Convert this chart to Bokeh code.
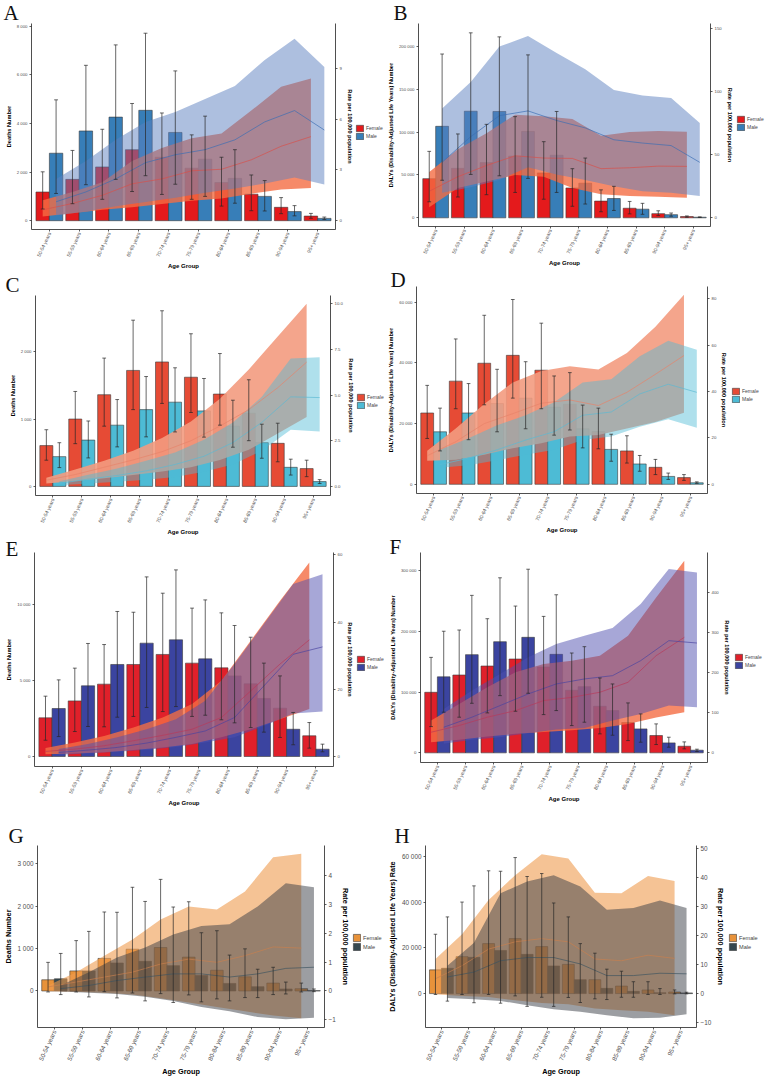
import math
from bokeh.plotting import figure
from bokeh.models import Range1d, LinearAxis, FixedTicker, Legend, LegendItem
from bokeh.layouts import column, row
from bokeh.embed import file_html
from bokeh.resources import INLINE

AGE_GROUPS = ["50-54 years", "55-59 years", "60-64 years", "65-69 years", "70-74 years",
              "75-79 years", "80-84 years", "85-89 years", "90-94 years", "95+ years"]
SEX_LABELS = ["Female", "Male"]
RATE_TITLE = "Rate per 100,000 population"

# ---------------- Panel A: deaths ----------------
A_NUM_F = [1180, 1700, 2210, 2920, 2610, 2160, 1570, 1090, 550, 190]
A_NUM_F_LO = [480, 700, 880, 1200, 1080, 880, 600, 410, 290, 100]
A_NUM_F_HI = [2010, 2890, 3760, 4820, 4430, 3530, 2610, 1880, 950, 300]
A_NUM_M = [2775, 3690, 4260, 4540, 3630, 2530, 1740, 1000, 375, 95]
A_NUM_M_LO = [1120, 1480, 1700, 1850, 1500, 1000, 720, 400, 200, 50]
A_NUM_M_HI = [4970, 6390, 7230, 7710, 6160, 4300, 2920, 1650, 620, 150]
A_RATE_F = [0.64, 1.02, 1.5, 2.18, 2.47, 2.95, 3.04, 3.6, 4.4, 4.97]
A_RATE_F_LO = [0.25, 0.44, 0.64, 0.79, 0.98, 1.18, 1.31, 1.6, 1.85, 1.93]
A_RATE_F_HI = [1.21, 1.7, 2.27, 3.53, 4.3, 4.87, 5.16, 6.51, 7.92, 8.4]
A_RATE_M = [1.12, 1.7, 2.47, 3.43, 3.9, 4.2, 4.78, 5.84, 6.51, 5.36]
A_RATE_M_LO = [0.3, 0.55, 0.85, 1.1, 1.35, 1.65, 1.9, 2.2, 2.55, 2.14]
A_RATE_M_HI = [2.47, 3.53, 4.78, 5.84, 6.42, 7.19, 7.96, 9.5, 10.75, 9.09]

# ---------------- Panel B: DALYs ----------------
B_NUM_F = [45700, 57700, 64400, 71900, 52400, 34800, 19500, 11200, 4900, 1500]
B_NUM_F_LO = [18700, 24300, 27000, 29600, 21700, 13500, 7100, 4600, 2600, 700]
B_NUM_F_HI = [77500, 97800, 109000, 118000, 88800, 57300, 32600, 19100, 8200, 2200]
B_NUM_M = [106700, 124300, 124000, 100700, 73000, 40400, 22500, 10100, 3700, 700]
B_NUM_M_LO = [43800, 50600, 49000, 46000, 29600, 16100, 8600, 4100, 1900, 400]
B_NUM_M_HI = [191000, 215700, 211000, 190000, 124000, 69700, 36700, 16900, 5600, 1100]
B_RATE_F = [21.1, 32.6, 41.5, 49.2, 47.4, 47.1, 39.0, 39.7, 41.0, 40.8]
B_RATE_F_LO = [8.4, 23.7, 28.8, 33.9, 32.6, 23.7, 18.6, 17.3, 16.8, 16.0]
B_RATE_F_HI = [36.4, 54.3, 67.0, 81.8, 80.5, 78.4, 65.0, 68.0, 68.8, 68.3]
B_RATE_M = [44.0, 64.4, 81.0, 84.8, 77.2, 71.3, 61.9, 59.3, 57.3, 44.0]
B_RATE_M_LO = [19.9, 24.2, 30.0, 40.2, 34.4, 30.0, 25.0, 21.1, 19.9, 17.3]
B_RATE_M_HI = [86.6, 107.7, 135.8, 144.2, 130.7, 117.9, 101.4, 97.0, 95.0, 75.1]

# ---------------- Panel C: deaths ----------------
C_NUM_F = [607, 1002, 1364, 1725, 1851, 1624, 1373, 1089, 641, 265]
C_NUM_F_LO = [390, 636, 896, 1142, 1234, 1099, 911, 680, 366, 145]
C_NUM_F_HI = [843, 1412, 1908, 2472, 2612, 2270, 1976, 1586, 940, 390]
C_NUM_M = [443, 689, 911, 1142, 1253, 1123, 896, 651, 284, 72]
C_NUM_M_LO = [280, 424, 588, 737, 810, 733, 583, 419, 169, 43]
C_NUM_M_HI = [650, 973, 1292, 1634, 1764, 1605, 1282, 925, 405, 101]
C_RATE_F = [0.34, 0.65, 1.05, 1.45, 1.9, 2.5, 3.3, 4.2, 5.4, 6.8]
C_RATE_F_LO = [0.16, 0.3, 0.45, 0.62, 0.82, 1.05, 1.45, 2.0, 2.9, 3.8]
C_RATE_F_HI = [0.48, 0.92, 1.4, 1.95, 2.65, 3.55, 4.8, 6.4, 8.2, 10.0]
C_RATE_M = [0.16, 0.4, 0.6, 0.85, 1.2, 1.65, 2.4, 3.5, 4.9, 4.86]
C_RATE_M_LO = [0.07, 0.16, 0.25, 0.36, 0.52, 0.8, 1.2, 1.95, 3.1, 3.0]
C_RATE_M_HI = [0.28, 0.64, 0.98, 1.4, 1.85, 2.55, 3.5, 4.9, 7.0, 7.06]

# ---------------- Panel D: DALYs ----------------
D_NUM_F = [23500, 34000, 39900, 42500, 37600, 26400, 17400, 11000, 5600, 2200]
D_NUM_F_LO = [15100, 24900, 26200, 28400, 24900, 17900, 11700, 7000, 3200, 1300]
D_NUM_F_HI = [32600, 47900, 55700, 60900, 53100, 36800, 25100, 16000, 8200, 3200]
D_NUM_M = [17300, 23500, 26600, 28400, 25400, 18300, 11500, 6700, 2600, 500]
D_NUM_M_LO = [11000, 14700, 17300, 18300, 16200, 12000, 7600, 4300, 1600, 300]
D_NUM_M_HI = [25100, 33200, 37900, 40400, 35700, 26100, 16500, 9500, 3700, 800]
D_RATE_F = [12.3, 18.4, 26.2, 30.5, 35.0, 36.4, 34.0, 39.7, 47.5, 55.6]
D_RATE_F_LO = [10.2, 10.6, 12.8, 15.6, 17.7, 20.6, 21.3, 24.1, 26.9, 30.9]
D_RATE_F_HI = [14.5, 24.1, 34.7, 44.0, 48.9, 51.0, 49.6, 56.7, 68.0, 81.8]
D_RATE_M = [8.5, 11.3, 14.9, 19.1, 22.7, 29.8, 31.2, 39.0, 43.2, 39.7]
D_RATE_M_LO = [7.1, 8.2, 10.4, 12.8, 14.9, 19.1, 20.6, 24.8, 28.1, 24.4]
D_RATE_M_HI = [14.9, 19.9, 25.5, 29.8, 35.4, 44.0, 45.4, 55.3, 62.0, 58.1]

# ---------------- Panel E: deaths ----------------
E_NUM_F = [2540, 3650, 4750, 6040, 6700, 6130, 5820, 4770, 3170, 1360]
E_NUM_F_LO = [1070, 1640, 1950, 2630, 2950, 2630, 2410, 1900, 1250, 550]
E_NUM_F_HI = [3960, 5800, 7350, 9470, 10720, 9740, 9430, 7830, 5290, 2230]
E_NUM_M = [3150, 4640, 6040, 7440, 7660, 6410, 5290, 3810, 1790, 480]
E_NUM_M_LO = [1310, 1970, 2580, 3220, 3280, 2710, 2210, 1600, 770, 310]
E_NUM_M_HI = [5030, 7420, 9520, 11790, 12250, 10280, 8600, 6130, 2890, 810]
E_RATE_F = [1.5, 2.2, 3.2, 4.7, 6.3, 8.1, 11.6, 19.5, 27.5, 34.7]
E_RATE_F_LO = [0.7, 0.9, 1.3, 1.9, 2.7, 3.7, 5.7, 8.1, 11.1, 14.1]
E_RATE_F_HI = [2.5, 4.2, 6.1, 8.6, 11.6, 15.6, 22.5, 34.4, 46.3, 57.7]
E_RATE_M = [1.2, 1.9, 2.7, 4.0, 5.7, 7.6, 11.6, 21.0, 30.4, 32.6]
E_RATE_M_LO = [0.5, 0.9, 1.4, 2.0, 2.8, 4.2, 5.7, 9.1, 12.8, 13.4]
E_RATE_M_HI = [2.2, 3.7, 5.7, 8.1, 11.1, 16.6, 27.5, 39.4, 51.3, 54.2]

# ---------------- Panel F: DALYs ----------------
F_NUM_F = [99600, 128000, 142800, 154300, 141200, 102900, 76600, 49800, 28500, 10900]
F_NUM_F_LO = [43200, 58600, 65700, 68400, 62900, 44900, 31200, 20200, 13700, 6600]
F_NUM_F_HI = [157000, 202000, 220600, 241400, 224400, 164200, 123100, 82100, 47600, 18000]
F_NUM_M = [125000, 161500, 182800, 190000, 162000, 108900, 69500, 39400, 16400, 4400]
F_NUM_M_LO = [66800, 81500, 94100, 98000, 69500, 50400, 29000, 17500, 9300, 2200]
F_NUM_M_HI = [200000, 259000, 287900, 302000, 260000, 174600, 113300, 64000, 25700, 6000]
F_RATE_F = [51.3, 68.0, 88.6, 105.0, 130.0, 138.0, 150.7, 175.5, 241.7, 287.3]
F_RATE_F_LO = [26.5, 32.3, 40.6, 47.2, 52.0, 56.0, 62.0, 72.0, 88.0, 101.0]
F_RATE_F_HI = [80.3, 121.7, 163.0, 200.3, 221.0, 229.3, 241.7, 291.4, 386.6, 477.6]
F_RATE_M = [63.7, 88.6, 117.5, 146.5, 171.4, 183.8, 192.0, 229.3, 279.0, 273.2]
F_RATE_M_LO = [22.4, 32.3, 38.9, 48.8, 57.9, 62.1, 80.3, 96.9, 117.5, 113.4]
F_RATE_M_HI = [109.3, 154.8, 196.2, 237.6, 270.7, 291.4, 310.4, 370.0, 457.0, 448.7]

# ---------------- Panel G: deaths ----------------
G_NUM_F = [264, 473, 767, 984, 1023, 798, 488, 333, 186, 54]
G_NUM_F_LO = [-23, -23, -16, -47, -62, -93, -186, -155, -85, -23]
G_NUM_F_HI = [674, 1186, 1860, 2442, 2628, 2101, 1419, 992, 558, 186]
G_NUM_M = [287, 473, 659, 698, 597, 364, 178, 101, 47, 8]
G_NUM_M_LO = [-85, -140, -163, -233, -271, -256, -233, -155, -70, -16]
G_NUM_M_HI = [884, 1403, 1853, 2109, 1977, 1372, 845, 512, 209, 47]
G_RATE_F = [0.14, 0.31, 0.48, 0.65, 0.93, 1.1, 0.99, 1.22, 1.52, 1.48]
G_RATE_F_LO = [-0.01, -0.03, -0.06, -0.12, -0.25, -0.4, -0.55, -0.7, -0.85, -0.94]
G_RATE_F_HI = [0.19, 0.65, 1.22, 1.78, 2.47, 2.92, 2.81, 3.43, 4.62, 4.74]
G_RATE_M = [0.08, 0.19, 0.36, 0.48, 0.59, 0.59, 0.48, 0.59, 0.78, 0.82]
G_RATE_M_LO = [-0.02, -0.06, -0.1, -0.2, -0.35, -0.55, -0.7, -0.9, -0.98, -0.92]
G_RATE_M_HI = [0.19, 0.65, 1.16, 1.5, 1.95, 2.24, 2.3, 2.92, 3.72, 3.58]

# ---------------- Panel H: DALYs ----------------
H_NUM_F = [10400, 16200, 21900, 24100, 20600, 12800, 6100, 3300, 1600, 700]
H_NUM_F_LO = [-400, -400, -400, -1000, -1600, -1700, -2300, -1600, -400, -100]
H_NUM_F_HI = [26000, 40100, 53800, 59600, 52600, 33600, 17700, 9800, 5200, 1600]
H_NUM_M = [11100, 15900, 18900, 17200, 12100, 6100, 2300, 1000, 400, 300]
H_NUM_M_LO = [-3300, -4000, -4200, -5600, -5600, -3900, -2600, -1600, -400, -100]
H_NUM_M_HI = [33600, 47200, 53600, 51300, 39700, 21900, 10700, 5200, 2200, 600]
H_RATE_F = [5.1, 9.6, 15.3, 17.8, 18.9, 17.8, 11.9, 11.3, 13.2, 12.1]
H_RATE_F_LO = [-0.2, -0.8, -1.2, -2.3, -3.2, -3.7, -5.1, -5.7, -6.2, -7.4]
H_RATE_F_HI = [11.9, 20.4, 32.2, 40.7, 47.9, 46.4, 34.7, 34.5, 40.4, 38.7]
H_RATE_M = [5.7, 7.4, 11.3, 12.4, 12.4, 10.2, 6.2, 6.2, 7.0, 6.8]
H_RATE_M_LO = [-1.5, -1.9, -2.5, -4.0, -5.4, -6.2, -7.4, -8.5, -8.3, -7.1]
H_RATE_M_HI = [9.6, 17.5, 34.5, 38.5, 40.7, 36.8, 28.8, 29.4, 32.0, 29.4]

SANS = "Liberation Sans"
SERIF = "Liberation Serif"
BAR_EDGE = "#3A3A3A"
ERR_COLOR = "#262626"
DODGE = 0.225
BAR_W = 0.45
CAP = 0.065
LETTER_SIZE = 21

PAL_AB = dict(f_bar="#E41A1C", m_bar="#377EB8", f_rib="#F46D43", f_rib_a=0.8,
              m_rib="#5B7FBF", m_rib_a=0.5, f_line="#D8504A", m_line="#3C6EB4")
PAL_CD = dict(f_bar="#E64B35", m_bar="#4DBBD5", f_rib="#F39B7F", f_rib_a=0.9,
              m_rib="#4DBBD5", m_rib_a=0.45, f_line="#E8826A", m_line="#5CBAD2")
PAL_EF = dict(f_bar="#E0202A", m_bar="#3B44A0", f_rib="#F46D43", f_rib_a=0.8,
              m_rib="#4F4FB0", m_rib_a=0.5, f_line="#B83A5A", m_line="#4A44A0")
PAL_GH = dict(f_bar="#E8923A", m_bar="#34474F", f_rib="#EE9B4F", f_rib_a=0.6,
              m_rib="#3A3E46", m_rib_a=0.5, f_line="#C8804E", m_line="#3F5560")

FONT_SMALL = dict(tick="4.3px", xtick="5px", title="5.6px", xtitle="6px", legend="5px", gw=9, gh=8)
FONT_LARGE = dict(tick="6.4px", xtick="6.2px", title="7.3px", xtitle="7.3px", legend="5.6px", gw=9, gh=9)

DEATHS_TITLE = "Deaths Number"
DALYS_TITLE = "DALYs (Disability-Adjusted Life Years) Number"
DALYS_RATE_TITLE = "DALYs (Disability-Adjusted Life Years) Rate"


def spaced(v):
    return f"{int(v):,}".replace(",", " ")


def signed(v):
    return f"{v:g}".replace("-", "\u2212")


def style_axis(ax, label_size, title_size, label_color="#4D4D4D"):
    ax.axis_line_color = "#222222"
    ax.axis_line_width = 0.8
    ax.major_tick_line_color = "#333333"
    ax.major_tick_line_width = 0.8
    ax.major_tick_out = 2
    ax.major_tick_in = 0
    ax.minor_tick_line_color = None
    ax.major_label_text_font = SANS
    ax.major_label_text_font_size = label_size
    ax.major_label_text_color = label_color
    ax.major_label_standoff = 2
    ax.axis_label_text_font = SANS
    ax.axis_label_text_font_style = "bold"
    ax.axis_label_text_font_size = title_size
    ax.axis_label_text_color = "#000000"
    ax.axis_label_standoff = 2


def no_align(p):
    try:
        p.frame_align = False
    except Exception:
        pass


def build_main(cfg):
    W = cfg["legend_left"]
    H = cfg["height"]
    L, frame_right, T, B = cfg["frame"]
    R = W - frame_right
    y0, y1 = cfg["y_range"]
    s = cfg["rate_scale"]
    pal = cfg["pal"]
    fnt = cfg["font"]

    p = figure(width=W, height=H, output_backend="svg", toolbar_location=None,
               x_range=Range1d(0.4, 10.6), y_range=Range1d(y0, y1),
               min_border_left=L, min_border_right=R, min_border_top=T, min_border_bottom=B,
               background_fill_color="white", border_fill_color="white")
    no_align(p)
    p.outline_line_color = None
    p.xgrid.visible = False
    p.ygrid.visible = False
    p.extra_y_ranges = {"rate": Range1d(y0 * s, y1 * s)}

    xs = list(range(1, len(AGE_GROUPS) + 1))
    xf = [x - DODGE for x in xs]
    xm = [x + DODGE for x in xs]

    # counts as dodged bars
    p.vbar(x=xf, top=cfg["num_f"], width=BAR_W, bottom=0,
           fill_color=pal["f_bar"], line_color=BAR_EDGE, line_width=0.6)
    p.vbar(x=xm, top=cfg["num_m"], width=BAR_W, bottom=0,
           fill_color=pal["m_bar"], line_color=BAR_EDGE, line_width=0.6)

    # rate uncertainty bands and rate lines on the secondary axis
    p.varea(x=xf, y1=cfg["rate_f_lo"], y2=cfg["rate_f_hi"], fill_color=pal["f_rib"],
            fill_alpha=pal["f_rib_a"], y_range_name="rate")
    p.varea(x=xm, y1=cfg["rate_m_lo"], y2=cfg["rate_m_hi"], fill_color=pal["m_rib"],
            fill_alpha=pal["m_rib_a"], y_range_name="rate")
    p.line(x=xf, y=cfg["rate_f"], line_color=pal["f_line"], line_width=0.8,
           line_alpha=0.85, y_range_name="rate")
    p.line(x=xm, y=cfg["rate_m"], line_color=pal["m_line"], line_width=0.8,
           line_alpha=0.85, y_range_name="rate")

    # error bars with caps
    for xx, lo, hi in ((xf, cfg["num_f_lo"], cfg["num_f_hi"]), (xm, cfg["num_m_lo"], cfg["num_m_hi"])):
        p.segment(x0=xx, y0=lo, x1=xx, y1=hi, line_color=ERR_COLOR, line_width=0.7)
        left = [x - CAP for x in xx]
        right = [x + CAP for x in xx]
        p.segment(x0=left, y0=hi, x1=right, y1=hi, line_color=ERR_COLOR, line_width=0.7)
        p.segment(x0=left, y0=lo, x1=right, y1=lo, line_color=ERR_COLOR, line_width=0.7)

    # axes
    xax = p.xaxis[0]
    xax.ticker = FixedTicker(ticks=xs)
    xax.major_label_overrides = {x: g for x, g in zip(xs, AGE_GROUPS)}
    xax.major_label_orientation = math.radians(65)
    xax.axis_label = "Age Group"
    style_axis(xax, fnt["xtick"], fnt["xtitle"])
    xax.major_label_standoff = 1
    xax.axis_label_standoff = 1

    yax = p.yaxis[0]
    yax.ticker = FixedTicker(ticks=cfg["y_ticks"])
    yax.major_label_overrides = {t: spaced(t) for t in cfg["y_ticks"]}
    yax.axis_label = cfg["y_title"]
    style_axis(yax, fnt["tick"], fnt["title"])

    rax = LinearAxis(y_range_name="rate", ticker=FixedTicker(ticks=cfg["rate_ticks"]),
                     axis_label=RATE_TITLE)
    rax.major_label_overrides = {t: lab for t, lab in zip(cfg["rate_ticks"], cfg["rate_labels"])}
    style_axis(rax, fnt["tick"], fnt["title"])
    p.add_layout(rax, "right")

    # panel letter as a left-aligned title sitting on the frame
    lx, base = cfg["letter_at"]
    descent = 0.216 * LETTER_SIZE
    text_h = 1.107 * LETTER_SIZE + 2
    standoff = min(2 * (T - descent - base), T - text_h - 1)
    p.title.text = cfg["letter"]
    p.title.text_font = SERIF
    p.title.text_font_size = f"{LETTER_SIZE}px"
    p.title.text_font_style = "normal"
    p.title.text_color = "#111111"
    p.title.align = "left"
    p.title.vertical_align = "bottom"
    p.title.offset = lx - L
    try:
        p.title.standoff = standoff
    except Exception:
        p.title.standoff = 0
    return p


def build_legend_strip(cfg, col_width):
    """Narrow strip to the right of a panel holding its sex legend."""
    W = col_width - cfg["legend_left"]
    H = cfg["height"]
    pal = cfg["pal"]
    fnt = cfg["font"]
    q = figure(width=W, height=H, output_backend="svg", toolbar_location=None, title=None,
               x_range=Range1d(0, 1), y_range=Range1d(0, 1),
               x_axis_type=None, y_axis_type=None,
               min_border_left=0, min_border_right=0, min_border_top=0, min_border_bottom=0,
               background_fill_color="white", border_fill_color="white")
    no_align(q)
    q.outline_line_color = None
    # swatch renderers sit outside the visible range; only their legend entries show
    fr = q.vbar(x=[5], top=[5], bottom=[4], width=0.5, fill_color=pal["f_bar"],
                line_color=BAR_EDGE, line_width=0.6)
    mr = q.vbar(x=[5], top=[5], bottom=[4], width=0.5, fill_color=pal["m_bar"],
                line_color=BAR_EDGE, line_width=0.6)
    gh = fnt["gh"]
    legend = Legend(items=[LegendItem(label=SEX_LABELS[0], renderers=[fr]),
                           LegendItem(label=SEX_LABELS[1], renderers=[mr])],
                    location=(0, H - (cfg["legend_top"] + 2 * gh)),
                    orientation="vertical", padding=0, spacing=0, margin=0,
                    glyph_width=fnt["gw"], glyph_height=gh, label_height=gh,
                    label_standoff=2, label_text_font=SANS,
                    label_text_font_size=fnt["legend"], label_text_baseline="middle",
                    border_line_alpha=0, background_fill_alpha=0)
    q.add_layout(legend)
    return q


# frame = (left border, frame right edge, top border, bottom border) in panel pixels
PANELS = {
    "A": dict(letter="A", height=271, frame=(31, 337, 23, 38), legend_left=355, legend_top=124,
              y_range=(-362, 8110), rate_scale=0.0014374, y_ticks=[0, 2000, 4000, 6000, 8000],
              rate_ticks=[0, 3, 6, 9], y_title=DEATHS_TITLE, pal=PAL_AB, font=FONT_SMALL,
              letter_at=(3, 20),
              num_f=A_NUM_F, num_f_lo=A_NUM_F_LO, num_f_hi=A_NUM_F_HI,
              num_m=A_NUM_M, num_m_lo=A_NUM_M_LO, num_m_hi=A_NUM_M_HI,
              rate_f=A_RATE_F, rate_f_lo=A_RATE_F_LO, rate_f_hi=A_RATE_F_HI,
              rate_m=A_RATE_M, rate_m_lo=A_RATE_M_LO, rate_m_hi=A_RATE_M_HI),
    "B": dict(letter="B", height=268, frame=(32, 326, 23, 35), legend_left=352, legend_top=115,
              y_range=(-10112, 226592), rate_scale=0.00068008,
              y_ticks=[0, 50000, 100000, 150000, 200000],
              rate_ticks=[0, 50, 100, 150], y_title=DALYS_TITLE, pal=PAL_AB, font=FONT_SMALL,
              letter_at=(7, 19),
              num_f=B_NUM_F, num_f_lo=B_NUM_F_LO, num_f_hi=B_NUM_F_HI,
              num_m=B_NUM_M, num_m_lo=B_NUM_M_LO, num_m_hi=B_NUM_M_HI,
              rate_f=B_RATE_F, rate_f_lo=B_RATE_F_LO, rate_f_hi=B_RATE_F_HI,
              rate_m=B_RATE_M, rate_m_lo=B_RATE_M_LO, rate_m_hi=B_RATE_M_HI),
    "C": dict(letter="C", height=266, frame=(35, 332, 24, 36), legend_left=356, legend_top=122,
              y_range=(-135, 2839), rate_scale=0.0036791, y_ticks=[0, 1000, 2000],
              rate_ticks=[0, 2.5, 5, 7.5, 10], y_title=DEATHS_TITLE, pal=PAL_CD, font=FONT_SMALL,
              letter_at=(5, 17),
              num_f=C_NUM_F, num_f_lo=C_NUM_F_LO, num_f_hi=C_NUM_F_HI,
              num_m=C_NUM_M, num_m_lo=C_NUM_M_LO, num_m_hi=C_NUM_M_HI,
              rate_f=C_RATE_F, rate_f_lo=C_RATE_F_LO, rate_f_hi=C_RATE_F_HI,
              rate_m=C_RATE_M, rate_m_lo=C_RATE_M_LO, rate_m_hi=C_RATE_M_HI),
    "D": dict(letter="D", height=267, frame=(32, 323, 18, 39), legend_left=347, legend_top=119,
              y_range=(-3032, 65187), rate_scale=0.00130993, y_ticks=[0, 20000, 40000, 60000],
              rate_ticks=[0, 20, 40, 60, 80], y_title=DALYS_TITLE, pal=PAL_CD, font=FONT_SMALL,
              letter_at=(6, 19),
              num_f=D_NUM_F, num_f_lo=D_NUM_F_LO, num_f_hi=D_NUM_F_HI,
              num_m=D_NUM_M, num_m_lo=D_NUM_M_LO, num_m_hi=D_NUM_M_HI,
              rate_f=D_RATE_F, rate_f_lo=D_RATE_F_LO, rate_f_hi=D_RATE_F_HI,
              rate_m=D_RATE_M, rate_m_lo=D_RATE_M_LO, rate_m_hi=D_RATE_M_HI),
    "E": dict(letter="E", height=273, frame=(34, 336, 15, 44), legend_left=356, legend_top=118,
              y_range=(-656, 13392), rate_scale=0.0045315, y_ticks=[0, 5000, 10000],
              rate_ticks=[0, 20, 40, 60], y_title=DEATHS_TITLE, pal=PAL_EF, font=FONT_SMALL,
              letter_at=(5, 19),
              num_f=E_NUM_F, num_f_lo=E_NUM_F_LO, num_f_hi=E_NUM_F_HI,
              num_m=E_NUM_M, num_m_lo=E_NUM_M_LO, num_m_hi=E_NUM_M_HI,
              rate_f=E_RATE_F, rate_f_lo=E_RATE_F_LO, rate_f_hi=E_RATE_F_HI,
              rate_m=E_RATE_M, rate_m_lo=E_RATE_M_LO, rate_m_hi=E_RATE_M_HI),
    "F": dict(letter="F", height=275, frame=(36, 323, 17, 48), legend_left=350, legend_top=118,
              y_range=(-15873, 329502), rate_scale=0.0015124,
              y_ticks=[0, 100000, 200000, 300000],
              rate_ticks=[0, 100, 200, 300, 400, 500], y_title=DALYS_TITLE, pal=PAL_EF,
              font=FONT_SMALL, letter_at=(5, 19),
              num_f=F_NUM_F, num_f_lo=F_NUM_F_LO, num_f_hi=F_NUM_F_HI,
              num_m=F_NUM_M, num_m_lo=F_NUM_M_LO, num_m_hi=F_NUM_M_HI,
              rate_f=F_RATE_F, rate_f_lo=F_RATE_F_LO, rate_f_hi=F_RATE_F_HI,
              rate_m=F_RATE_M, rate_m_lo=F_RATE_M_LO, rate_m_hi=F_RATE_M_HI),
    "G": dict(letter="G", height=269, frame=(37, 324, 35, 50), legend_left=352, legend_top=123,
              y_range=(-860, 3426), rate_scale=0.0014659, y_ticks=[0, 1000, 2000, 3000],
              rate_ticks=[-1, 0, 1, 2, 3, 4], y_title=DEATHS_TITLE, pal=PAL_GH, font=FONT_LARGE,
              letter_at=(8, 33),
              num_f=G_NUM_F, num_f_lo=G_NUM_F_LO, num_f_hi=G_NUM_F_HI,
              num_m=G_NUM_M, num_m_lo=G_NUM_M_LO, num_m_hi=G_NUM_M_HI,
              rate_f=G_RATE_F, rate_f_lo=G_RATE_F_LO, rate_f_hi=G_RATE_F_HI,
              rate_m=G_RATE_M, rate_m_lo=G_RATE_M_LO, rate_m_hi=G_RATE_M_HI),
    "H": dict(letter="H", height=269, frame=(36, 314, 35, 50), legend_left=344, legend_top=123,
              y_range=(-14852, 64888), rate_scale=0.00078450, y_ticks=[0, 20000, 40000, 60000],
              rate_ticks=[-10, 0, 10, 20, 30, 40, 50], y_title=DALYS_RATE_TITLE, pal=PAL_GH,
              font=FONT_LARGE, letter_at=(5, 33),
              num_f=H_NUM_F, num_f_lo=H_NUM_F_LO, num_f_hi=H_NUM_F_HI,
              num_m=H_NUM_M, num_m_lo=H_NUM_M_LO, num_m_hi=H_NUM_M_HI,
              rate_f=H_RATE_F, rate_f_lo=H_RATE_F_LO, rate_f_hi=H_RATE_F_HI,
              rate_m=H_RATE_M, rate_m_lo=H_RATE_M_LO, rate_m_hi=H_RATE_M_HI),
}

for key, cfg in PANELS.items():
    if key == "C":
        cfg["rate_labels"] = ["0.0", "2.5", "5.0", "7.5", "10.0"]
    else:
        cfg["rate_labels"] = [signed(t) for t in cfg["rate_ticks"]]


def panel_row(key, col_width):
    cfg = PANELS[key]
    return row(build_main(cfg), build_legend_strip(cfg, col_width), spacing=0)


left_col = column(*[panel_row(k, 384) for k in "ACEG"], spacing=0)
right_col = column(*[panel_row(k, 383) for k in "BDFH"], spacing=0)
layout = row(left_col, right_col, spacing=0)

with open("out.html", "w") as fh:
    fh.write(file_html(layout, INLINE, "Burden by age group and sex"))
